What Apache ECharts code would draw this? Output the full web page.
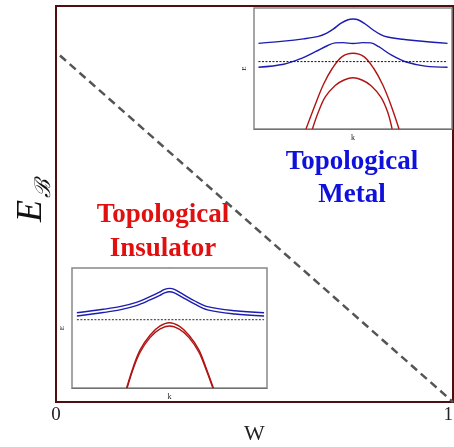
<!DOCTYPE html>
<html><head><meta charset="utf-8">
<script src="https://cdn.jsdelivr.net/npm/echarts@6/dist/echarts.min.js"></script>
<style>html,body{margin:0;padding:0;background:#fff}#c{width:454px;height:447px}</style>
</head><body><div id="c"></div>
<script>
// Main phase boundary (dashed)
const mainW = [0.01, 1];
const mainE = [0.875, 0];
const mainTicks = ['0', '1'];

// Top-right inset (Topological Metal)
const tmUpperK = [-0.955, -0.7, -0.5, -0.35, -0.27, -0.2, -0.12, -0.05, 0, 0.05, 0.12, 0.2, 0.28, 0.35, 0.5, 0.7, 0.955];
const tmUpperE = [0.708, 0.726, 0.745, 0.765, 0.79, 0.825, 0.875, 0.903, 0.909, 0.903, 0.87, 0.82, 0.78, 0.76, 0.742, 0.725, 0.708];
const tmLowerK = [-0.955, -0.7, -0.52, -0.38, -0.26, -0.18, -0.1, 0, 0.1, 0.18, 0.26, 0.39, 0.53, 0.73, 0.955];
const tmLowerE = [0.51, 0.535, 0.584, 0.639, 0.688, 0.712, 0.714, 0.706, 0.714, 0.712, 0.68, 0.61, 0.556, 0.52, 0.51];
const tmRedOuterK = [-0.475, -0.38, -0.3, -0.21, -0.11, 0, 0.11, 0.21, 0.3, 0.38, 0.465];
const tmRedOuterE = [0, 0.205, 0.366, 0.5, 0.598, 0.626, 0.598, 0.5, 0.366, 0.205, 0];
const tmRedInnerK = [-0.41, -0.35, -0.28, -0.18, -0.09, 0, 0.09, 0.18, 0.28, 0.35, 0.395];
const tmRedInnerE = [0, 0.14, 0.265, 0.36, 0.405, 0.424, 0.405, 0.36, 0.265, 0.14, 0];
const tmFermiK = [-0.955, 0.955];
const tmFermiE = [0.557, 0.557];

// Bottom-left inset (Topological Insulator)
const tiUpperK = [-0.95, -0.68, -0.51, -0.34, -0.2, -0.1, -0.05, 0, 0.05, 0.12, 0.26, 0.39, 0.67, 0.97];
const tiUpperE = [0.627, 0.656, 0.678, 0.714, 0.761, 0.80, 0.822, 0.83, 0.822, 0.79, 0.725, 0.678, 0.644, 0.627];
const tiLowerE = [0.600, 0.629, 0.651, 0.687, 0.734, 0.772, 0.793, 0.802, 0.793, 0.762, 0.698, 0.651, 0.617, 0.600];
const tiRedOuterK = [-0.44, -0.37, -0.3, -0.2, -0.1, 0, 0.1, 0.2, 0.3, 0.37, 0.45];
const tiRedOuterE = [0, 0.18, 0.32, 0.44, 0.515, 0.544, 0.515, 0.44, 0.32, 0.18, 0];
const tiRedInnerK = [-0.435, -0.37, -0.3, -0.2, -0.1, 0, 0.1, 0.2, 0.3, 0.37, 0.445];
const tiRedInnerE = [0, 0.165, 0.30, 0.42, 0.49, 0.517, 0.49, 0.42, 0.30, 0.165, 0];
const tiFermiK = [-0.95, 0.97];
const tiFermiE = [0.57, 0.57];

const zip = (a, b) => a.map((v, i) => [v, b[i]]);
const serif = '"Liberation Serif","DejaVu Serif",serif';
const BLUE = '#1c1cb0', RED = '#b01414', MAROON = '#4d0f0f';

function curve(idx, k, e, color, extra) {
  return Object.assign({
    type: 'line', xAxisIndex: idx, yAxisIndex: idx, data: zip(k, e),
    showSymbol: false, smooth: 0.35, z: 5,
    lineStyle: { color: color, width: 1.4 }, silent: true
  }, extra || {});
}
function insetX(name) {
  return { type: 'value', min: -1, max: 1, gridIndex: 0,
    axisLine: { show: true, onZero: false, lineStyle: { color: '#333', width: 1 } },
    axisTick: { show: false }, axisLabel: { show: false }, splitLine: { show: false },
    name: name, nameLocation: 'middle', nameGap: 5, nameMoveOverlap: false,
    nameTextStyle: { fontFamily: serif, fontSize: 8, color: '#222' } };
}
function insetY(name) {
  return { type: 'value', min: 0, max: 1,
    axisLine: { show: true, lineStyle: { color: '#333', width: 1 } },
    axisTick: { show: false }, axisLabel: { show: false }, splitLine: { show: false },
    name: name, nameLocation: 'middle', nameGap: 6, nameRotate: 90, nameMoveOverlap: false,
    nameTextStyle: { fontFamily: serif, fontSize: 7, color: '#222' } };
}

const chart = echarts.init(document.getElementById('c'), null, { renderer: 'canvas' });
const xs = [
  { type: 'value', gridIndex: 0, min: 0, max: 1, interval: 1,
    axisLine: { show: true, lineStyle: { color: MAROON, width: 2 } },
    axisTick: { show: false }, splitLine: { show: false },
    axisLabel: { fontFamily: serif, fontSize: 19, color: '#222', margin: 4, alignMaxLabel: 'right',
      formatter: v => mainTicks[Math.round(v)] },
    name: 'W', nameLocation: 'middle', nameGap: 21, nameMoveOverlap: false,
    nameTextStyle: { fontFamily: serif, fontSize: 22, color: '#222' } },
  Object.assign(insetX('k'), { gridIndex: 1 }),
  Object.assign(insetX('k'), { gridIndex: 2 })
];
const ys = [
  { type: 'value', gridIndex: 0, min: 0, max: 1,
    axisLine: { show: true, lineStyle: { color: MAROON, width: 2 } },
    axisTick: { show: false }, splitLine: { show: false }, axisLabel: { show: false } },
  Object.assign(insetY('E'), { gridIndex: 1 }),
  Object.assign(insetY('E'), { gridIndex: 2 })
];

chart.setOption({
  animation: false,
  backgroundColor: '#fff',
  grid: [
    { left: 56, top: 6, right: 1, bottom: 45, show: true, borderColor: MAROON, borderWidth: 2, backgroundColor: '#fff', outerBoundsMode: 'none', containLabel: false },
    { left: 254, top: 8, width: 198, height: 121, show: true, borderColor: '#888', borderWidth: 1.5, backgroundColor: '#fff', z: 3, outerBoundsMode: 'none', containLabel: false },
    { left: 72, top: 268, width: 195, height: 120, show: true, borderColor: '#888', borderWidth: 1.5, backgroundColor: '#fff', z: 3, outerBoundsMode: 'none', containLabel: false }
  ],
  xAxis: xs,
  yAxis: ys,
  graphic: [
    { type: 'text', left: 14, top: 200, rotation: Math.PI / 2, z: 10,
      style: { text: 'E', font: 'italic 36px ' + serif, fill: '#111' } },
    { type: 'text', left: 33, top: 180, rotation: Math.PI / 2, z: 10,
      style: { text: 'ℬ', font: 'italic 22px ' + serif, fill: '#111' } },
    { type: 'text', x: 163, y: 229, z: 10,
      style: { text: 'Topological', font: 'bold 27px ' + serif, fill: '#e01010', textAlign: 'center', textVerticalAlign: 'bottom' } },
    { type: 'text', x: 163, y: 263, z: 10,
      style: { text: 'Insulator', font: 'bold 27px ' + serif, fill: '#e01010', textAlign: 'center', textVerticalAlign: 'bottom' } },
    { type: 'text', x: 352, y: 176, z: 10,
      style: { text: 'Topological', font: 'bold 27px ' + serif, fill: '#1010dc', textAlign: 'center', textVerticalAlign: 'bottom' } },
    { type: 'text', x: 352, y: 209, z: 10,
      style: { text: 'Metal', font: 'bold 27px ' + serif, fill: '#1010dc', textAlign: 'center', textVerticalAlign: 'bottom' } }
  ],
  series: [
    { type: 'line', xAxisIndex: 0, yAxisIndex: 0, data: zip(mainW, mainE), showSymbol: false, silent: true,
      lineStyle: { color: '#555', width: 2.5, type: [8, 5] }, z: 2 },
    curve(1, tmUpperK, tmUpperE, BLUE),
    curve(1, tmLowerK, tmLowerE, BLUE),
    curve(1, tmRedOuterK, tmRedOuterE, RED),
    curve(1, tmRedInnerK, tmRedInnerE, RED),
    curve(1, tmFermiK, tmFermiE, '#111', { smooth: false, lineStyle: { color: '#111', width: 1, type: [2, 1.5] } }),
    curve(2, tiUpperK, tiUpperE, BLUE),
    curve(2, tiUpperK, tiLowerE, BLUE),
    curve(2, tiRedOuterK, tiRedOuterE, RED),
    curve(2, tiRedInnerK, tiRedInnerE, RED),
    curve(2, tiFermiK, tiFermiE, '#333', { smooth: false, lineStyle: { color: '#555', width: 1.2, type: [2, 1.5] } })
  ]
});
</script></body></html>
